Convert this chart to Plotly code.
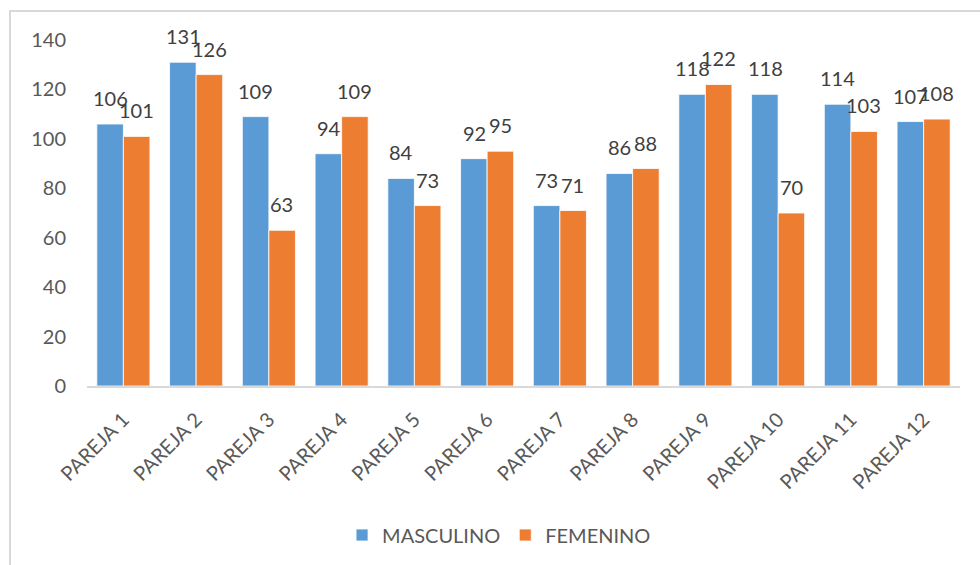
import plotly.graph_objects as go

categories = ["PAREJA %d" % i for i in range(1, 13)]
masculino = [106, 131, 109, 94, 84, 92, 73, 86, 118, 118, 114, 107]
femenino = [101, 126, 63, 109, 73, 95, 71, 88, 122, 70, 103, 108]

BLUE = "#5B9BD5"
ORANGE = "#ED7D31"
FONT = "Lato, 'Open Sans', sans-serif"

W, H = 980, 565
ML, MR, MT, MB = 87, 20, 40, 179

fig = go.Figure()
fig.add_trace(go.Bar(x=categories, y=masculino, name="MASCULINO",
                     marker=dict(color=BLUE, line=dict(color="white", width=0.8))))
fig.add_trace(go.Bar(x=categories, y=femenino, name="FEMENINO",
                     marker=dict(color=ORANGE, line=dict(color="white", width=0.8))))

# value labels above each bar
annotations = []
for cat, m, f in zip(categories, masculino, femenino):
    for val, shift in ((m, -13), (f, 13)):
        annotations.append(dict(x=cat, y=val, text=str(val), showarrow=False,
                                xshift=shift, yshift=12, yanchor="bottom",
                                font=dict(family=FONT, size=20, color="#404040")))

pw = W - ML - MR
ph = H - MT - MB


def px_x(p):
    return (p - ML) / pw


def px_y(p):
    return (H - MB - p) / ph


# outer chart frame
frame = dict(type="rect", xref="paper", yref="paper",
             x0=px_x(10), x1=px_x(W + 5), y0=px_y(H + 5), y1=px_y(11),
             line=dict(color="#D9D9D9", width=2), fillcolor="rgba(0,0,0,0)", layer="below")

fig.update_layout(
    width=W, height=H,
    margin=dict(l=ML, r=MR, t=MT, b=MB, autoexpand=False),
    paper_bgcolor="white", plot_bgcolor="white",
    barmode="group", bargap=0.27, bargroupgap=0,
    font=dict(family=FONT, color="#595959"),
    showlegend=True,
    legend=dict(orientation="h", x=0.472, xanchor="center", y=px_y(535), yanchor="middle",
                font=dict(family=FONT, size=20, color="#595959"), itemwidth=30,
                traceorder="normal"),
    annotations=annotations,
    shapes=[frame],
)
fig.update_xaxes(showline=True, linecolor="#D9D9D9", linewidth=2, tickangle=-45,
                 ticks="", tickfont=dict(family=FONT, size=20, color="#595959"),
                 ticklabelstandoff=12, showgrid=False, automargin=False)
fig.update_yaxes(range=[0, 140], dtick=20, showline=False, showgrid=False, zeroline=False,
                 ticks="", tickfont=dict(family=FONT, size=20, color="#595959"),
                 ticklabelstandoff=20, automargin=False)

# drop the default page margin so the chart sits at the window's top-left corner
fig.write_html("out.html", config={"displayModeBar": False},
               post_script="document.body.style.margin='0';")
